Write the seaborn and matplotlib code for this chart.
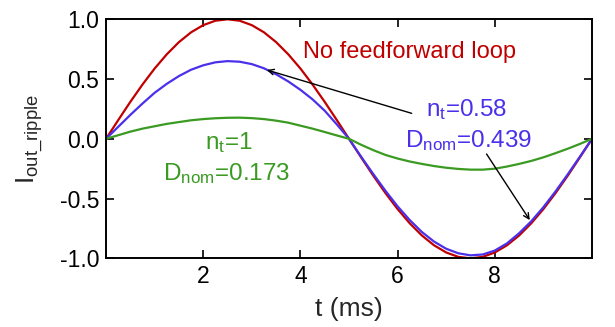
import matplotlib
matplotlib.use("Agg")
import matplotlib.pyplot as plt
import seaborn as sns
import pandas as pd

# ---- data ----
t_ms = [0.0, 0.25, 0.5, 0.75, 1.0, 1.25, 1.5, 1.75, 2.0, 2.25, 2.5, 2.75, 3.0, 3.25, 3.5, 3.75,
        4.0, 4.25, 4.5, 4.75, 5.0, 5.25, 5.5, 5.75, 6.0, 6.25, 6.5, 6.75, 7.0, 7.25, 7.5, 7.75,
        8.0, 8.25, 8.5, 8.75, 9.0, 9.25, 9.5, 9.75, 10.0]

no_feedforward = [0.0, 0.156, 0.309, 0.454, 0.588, 0.707, 0.809, 0.891, 0.951, 0.988, 1.0, 0.988,
                  0.951, 0.891, 0.809, 0.707, 0.588, 0.454, 0.309, 0.156, 0.0, -0.156, -0.309,
                  -0.454, -0.588, -0.707, -0.809, -0.891, -0.951, -0.988, -1.0, -0.988, -0.951,
                  -0.891, -0.809, -0.707, -0.588, -0.454, -0.309, -0.156, 0.0]

nt_058 = [0.0, 0.10, 0.20, 0.295, 0.385, 0.46, 0.525, 0.578, 0.615, 0.64, 0.65, 0.645,
          0.625, 0.59, 0.54, 0.48, 0.41, 0.33, 0.235, 0.12, 0.0, -0.15, -0.295,
          -0.435, -0.565, -0.68, -0.78, -0.86, -0.92, -0.958, -0.975, -0.968, -0.935,
          -0.875, -0.79, -0.69, -0.572, -0.44, -0.298, -0.15, 0.0]

nt_1 = [0.0, 0.03, 0.06, 0.085, 0.105, 0.125, 0.14, 0.155, 0.165, 0.172, 0.176, 0.177,
        0.173, 0.165, 0.152, 0.135, 0.11, 0.085, 0.057, 0.028, 0.0, -0.05, -0.095,
        -0.135, -0.165, -0.19, -0.21, -0.228, -0.242, -0.252, -0.258, -0.258, -0.25,
        -0.232, -0.21, -0.185, -0.155, -0.12, -0.083, -0.043, 0.0]

series_names = ["No feedforward loop", "nt=0.58", "nt=1"]
colors = ["#c00000", "#4a30ea", "#3a9a22"]
x_ticks = [2, 4, 6, 8]
y_ticks = [-1.0, -0.5, 0.0, 0.5, 1.0]

df = pd.DataFrame({
    "t": t_ms * 3,
    "I": no_feedforward + nt_058 + nt_1,
    "series": [series_names[0]] * len(t_ms) + [series_names[1]] * len(t_ms) + [series_names[2]] * len(t_ms),
})

# ---- style ----
sns.set_style("ticks")
plt.rcParams["font.family"] = ["Liberation Sans", "DejaVu Sans"]
plt.rcParams["mathtext.fontset"] = "custom"
plt.rcParams["mathtext.rm"] = "Liberation Sans"
plt.rcParams["mathtext.it"] = "Liberation Sans:italic"
plt.rcParams["mathtext.bf"] = "Liberation Sans:bold"
plt.rcParams["axes.unicode_minus"] = False

fig = plt.figure(figsize=(6.15, 3.27), dpi=100)
ax = fig.add_axes([0.1724, 0.210, 0.7902, 0.731])

sns.lineplot(data=df, x="t", y="I", hue="series", hue_order=series_names,
             palette=colors, linewidth=1.6, legend=False, ax=ax, sort=False)

ax.set_xlim(0, 10)
ax.set_ylim(-1.0, 1.0)
ax.set_xticks(x_ticks)
ax.set_xticklabels([str(v) for v in x_ticks])
ax.set_yticks(y_ticks)
ax.set_yticklabels([f"{v:.1f}" for v in y_ticks])
ax.tick_params(direction="in", length=6, width=1.2, labelsize=16.5, colors="black",
               top=True, right=True, pad=5)
for s in ax.spines.values():
    s.set_visible(True)
    s.set_linewidth(1.4)
    s.set_color("black")

ax.set_xlabel("t (ms)", fontsize=19, labelpad=6)
ax.set_ylabel(r"I$_{\rm out\_ripple}$", fontsize=19, labelpad=9.5)

# ---- annotations ----
ax.text(4.05, 0.726, "No feedforward loop", color=colors[0], fontsize=17,
        ha="left", va="center")
ax.text(7.43, 0.193, r"n$_{\rm t}$=0.58", color=colors[1], fontsize=17.5,
        ha="center", va="baseline")
ax.text(7.45, -0.066, r"D$_{\rm nom}$=0.439", color=colors[1], fontsize=17.5,
        ha="center", va="baseline")
ax.text(2.52, -0.085, r"n$_{\rm t}$=1", color=colors[2], fontsize=17.5,
        ha="center", va="baseline")
ax.text(2.49, -0.345, r"D$_{\rm nom}$=0.173", color=colors[2], fontsize=17.5,
        ha="center", va="baseline")

ax.annotate("", xy=(3.31, 0.576), xytext=(6.29, 0.213),
            arrowprops=dict(arrowstyle="->", color="black", lw=1.0, shrinkA=0, shrinkB=0))
ax.annotate("", xy=(8.72, -0.68), xytext=(7.83, -0.127),
            arrowprops=dict(arrowstyle="->", color="black", lw=1.0, shrinkA=0, shrinkB=0))

fig.savefig("out.png", dpi=100)
